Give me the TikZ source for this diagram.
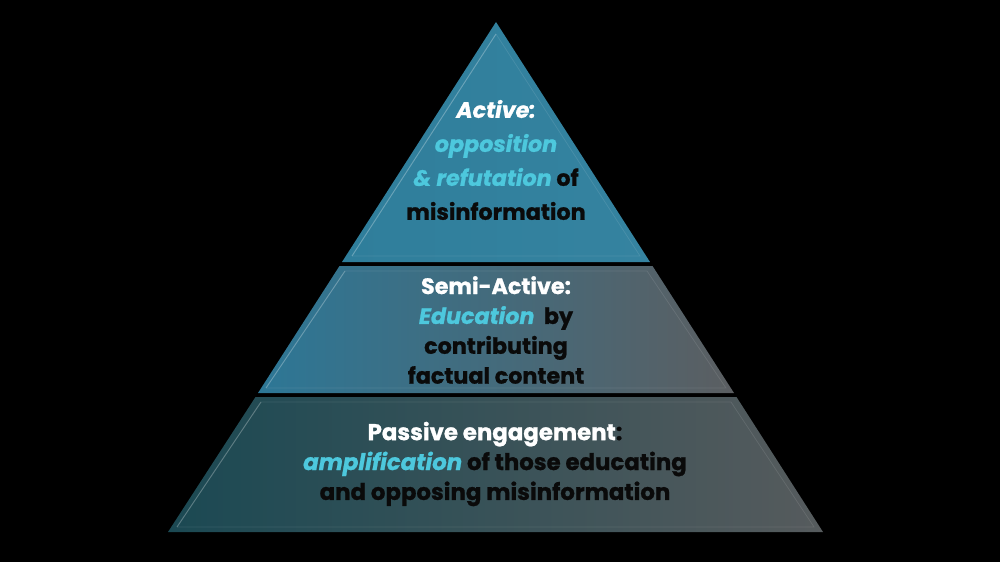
\documentclass[tikz,border=0pt]{standalone}
\usepackage{fontspec}
\setmainfont{Poppins}[BoldFeatures={FakeBold=1.0}, BoldItalicFeatures={FakeBold=1.0}]
\definecolor{cyanT}{HTML}{4DC8DD}
\definecolor{inkT}{HTML}{0A0A0A}
\definecolor{topA}{HTML}{2F7E9B}
\definecolor{topB}{HTML}{3583A0}
\definecolor{midA}{HTML}{2D7796}
\definecolor{midB}{HTML}{5B5E61}
\definecolor{botA}{HTML}{1B4953}
\definecolor{botB}{HTML}{565B5D}
\tikzset{
  tiertext/.style={align=center, font=\fontsize{19}{29}\selectfont\bfseries, text=inkT, inner sep=0pt},
  bevel/.style={draw=white, draw opacity=0.28, line width=0.8pt},
  bevelsoft/.style={draw=white, draw opacity=0.1, line width=0.6pt}
}
\begin{document}
\begin{tikzpicture}[x=0.03cm,y=-0.03cm]
\fill[black] (0,0) rectangle (1000,562);
\useasboundingbox (0,0) rectangle (1000,562);
% geometry
\coordinate (ap) at (496,22);
\coordinate (t1L) at (342,262);
\coordinate (t1R) at (650,262);
\coordinate (t2TL) at (339.5,266);
\coordinate (t2TR) at (652.5,266);
\coordinate (t2BL) at (258,393);
\coordinate (t2BR) at (734,393);
\coordinate (t3TL) at (255.5,397);
\coordinate (t3TR) at (736.5,397);
\coordinate (t3BL) at (168,532);
\coordinate (t3BR) at (823,532);
% tiers
\shade[left color=topA, right color=topB] (ap) -- (t1R) -- (t1L) -- cycle;
\shade[left color=midA, right color=midB] (t2TL) -- (t2TR) -- (t2BR) -- (t2BL) -- cycle;
\shade[left color=botA, right color=botB] (t3TL) -- (t3TR) -- (t3BR) -- (t3BL) -- cycle;
% bevels: bright along left slopes, faint elsewhere
\draw[bevelsoft] (496,34) -- (640,256) -- (352,256);
\draw[bevel] (352,256) -- (496,34);
\draw[bevelsoft] (345,271) -- (647,271) -- (726,388) -- (266,388);
\draw[bevel] (266,388) -- (345,271);
\draw[bevelsoft] (261,402) -- (731,402) -- (814,527) -- (177,527);
\draw[bevel] (177,527) -- (261,402);
% text
\node[tiertext] (tA) at (496,160) {\textcolor{white}{\itshape Active:}\\
\textcolor{cyanT}{\itshape opposition}\hspace*{0.66cm}\\
\textcolor{cyanT}{\itshape \& refutation} of\\
misinformation};
\node[tiertext, font=\fontsize{19}{25.5}\selectfont\bfseries] (tB) at (496,330) {\textcolor{white}{Semi-Active:}\\
\textcolor{cyanT}{\itshape Education}\ \ by\\
contributing\\
factual content};
\node[tiertext, font=\fontsize{19.5}{25.5}\selectfont\bfseries] (tC) at (495,464) {\textcolor{white}{Passive engagement}:\\
\textcolor{cyanT}{\itshape amplification} of those educating\\
and opposing misinformation};
\end{tikzpicture}
\end{document}
